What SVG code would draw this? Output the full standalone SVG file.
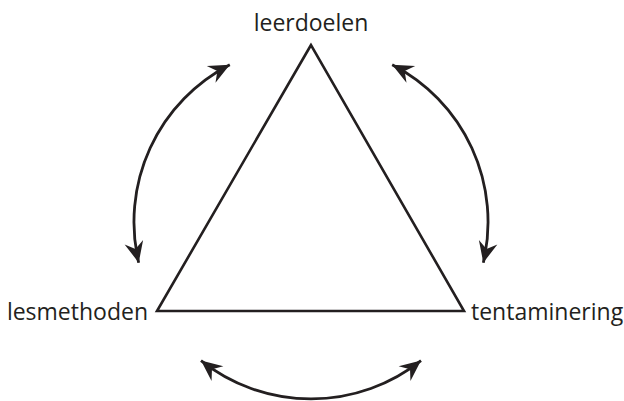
<svg xmlns="http://www.w3.org/2000/svg" width="624" height="401" viewBox="0 0 624 401">
<style>
.lbl{font-family:"Open Sans","Liberation Sans",sans-serif;font-size:23px;fill:#231f20}
.arc{fill:none;stroke:#231f20;stroke-width:2.8;marker-start:url(#ah);marker-end:url(#ah)}
</style>
<defs>
<marker id="ah" markerUnits="userSpaceOnUse" viewBox="-22 -11 24 22" refX="0" refY="0" markerWidth="24" markerHeight="22" orient="auto-start-reverse">
<path d="M0 0 L-21 -9.5 L-14 0 L-21 9.5 Z" fill="#231f20"/>
</marker>
</defs>
<rect width="624" height="401" fill="#fff"/>
<g id="triangle">
<polygon points="311,45 157,311 464,311" fill="none" stroke="#231f20" stroke-width="2.6" stroke-linejoin="miter"/>
</g>
<g id="leerdoelen"><text class="lbl" x="311" y="31" text-anchor="middle">leerdoelen</text></g>
<g id="lesmethoden"><text class="lbl" x="148" y="320" text-anchor="end">lesmethoden</text></g>
<g id="tentaminering"><text class="lbl" x="471" y="320">tentaminering</text></g>
<g id="connectors">
<path class="arc" d="M229.8 64.7 A177 177 0 0 0 138.7 262.7"/>
<path class="arc" d="M392.2 64.7 A177 177 0 0 1 483.3 262.7"/>
<path class="arc" d="M201 360.6 A177 177 0 0 0 421 360.6"/>
</g>
</svg>
